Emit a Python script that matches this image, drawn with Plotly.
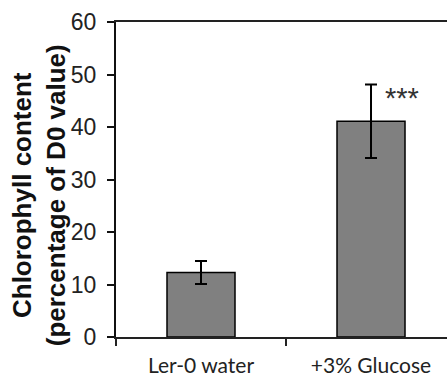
import plotly.graph_objects as go

categories = ["Ler-0 water", "+3% Glucose"]
values = [12.3, 41.1]
errors = [2.2, 7.0]
y_ticks = [0, 10, 20, 30, 40, 50, 60]
y_title = "<b>Chlorophyll content<br>(percentage of D0 value)</b>"
signif = "***"

fig = go.Figure()
fig.add_trace(go.Bar(
    x=categories, y=values,
    error_y=dict(type="data", array=errors, visible=True, color="black", thickness=2, width=6),
    marker=dict(color="#808080", line=dict(color="black", width=1.5)),
    width=0.4,
))

fig.add_annotation(text=y_title, xref="paper", yref="paper", x=0, y=0.45,
                   xshift=-77, xanchor="center", yanchor="middle", textangle=-90,
                   showarrow=False, font=dict(family="Liberation Sans", size=26, color="#111"))
fig.add_annotation(text=signif, xref="x", yref="y", x=1.18, y=45.5,
                   showarrow=False, font=dict(family="Liberation Sans", size=29, color="#333"))

fig.update_layout(
    width=447, height=376, autosize=False,
    margin=dict(l=116, r=0, t=22, b=39),
    plot_bgcolor="white", paper_bgcolor="white",
    showlegend=False,
    xaxis=dict(type="category", categoryarray=categories, range=[-0.5, 1.447],
               showline=True, linecolor="#222", linewidth=1.5, mirror=True,
               ticks="outside", tickson="boundaries", ticklen=7, tickcolor="#222", tickwidth=1.5,
               tickfont=dict(family="Lato", size=21, color="#222"),
               ticklabelstandoff=9, showgrid=False, automargin=False),
    yaxis=dict(range=[0, 60], tickvals=y_ticks, showline=True, linecolor="#111", linewidth=2,
               ticks="outside", ticklen=7, tickcolor="#111", tickwidth=1.5,
               tickfont=dict(family="Liberation Sans", size=23, color="#222"),
               ticklabelstandoff=6, showgrid=False, zeroline=False, automargin=False),
)

fig.write_html("out.html")
